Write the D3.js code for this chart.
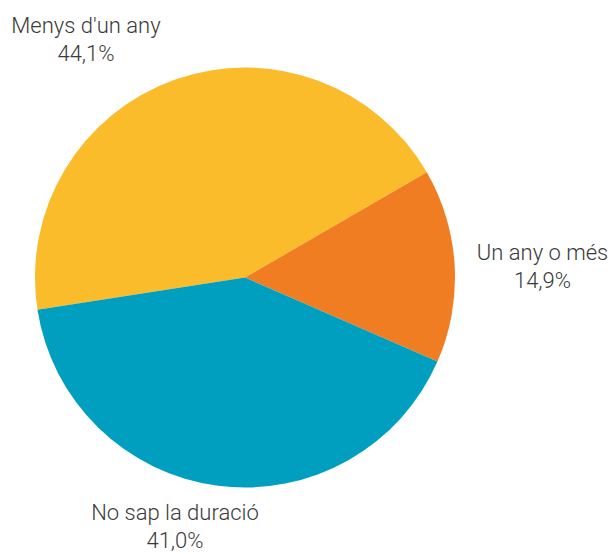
<!DOCTYPE html>
<html><head><meta charset="utf-8">
<script src="https://cdn.jsdelivr.net/npm/d3@7"></script>
<style>body{margin:0;background:#fff}svg{display:block}</style>
</head><body>
<svg id="c" width="612" height="554"></svg>
<script>
const categories = ["Menys d'un any", "Un any o més", "No sap la duració"];
const values = [44.1, 14.9, 41.0];
const valueLabels = ["44,1%", "14,9%", "41,0%"];
const colors = ["#FABC2B", "#F07D22", "#009FBF"];

const svg = d3.select("#c");
const cx = 245, cy = 277.5, r = 210;
const startDeg = -98.8;
const pie = d3.pie().sort(null)
  .startAngle(startDeg * Math.PI / 180)
  .endAngle((startDeg + 360) * Math.PI / 180);
const arc = d3.arc().innerRadius(0).outerRadius(r);
const arcs = pie(values);
const g = svg.append("g").attr("transform", `translate(${cx},${cy})`);
g.selectAll("path").data(arcs).join("path")
  .attr("d", arc).attr("fill", (d, i) => colors[i]);

// label positions (absolute)
const labelPos = [[86, 33], [542.5, 260], [175, 520]];
const lab = svg.append("g").attr("font-family", "Roboto, sans-serif")
  .attr("font-size", 22).attr("font-weight", 300).attr("fill", "#3a3a3a").attr("text-anchor", "middle");
categories.forEach((c, i) => {
  const t = lab.append("text").attr("x", labelPos[i][0]).attr("y", labelPos[i][1]);
  t.append("tspan").attr("x", labelPos[i][0]).text(c);
  t.append("tspan").attr("x", labelPos[i][0]).attr("dy", 28).text(valueLabels[i]);
});
</script>
</body></html>
